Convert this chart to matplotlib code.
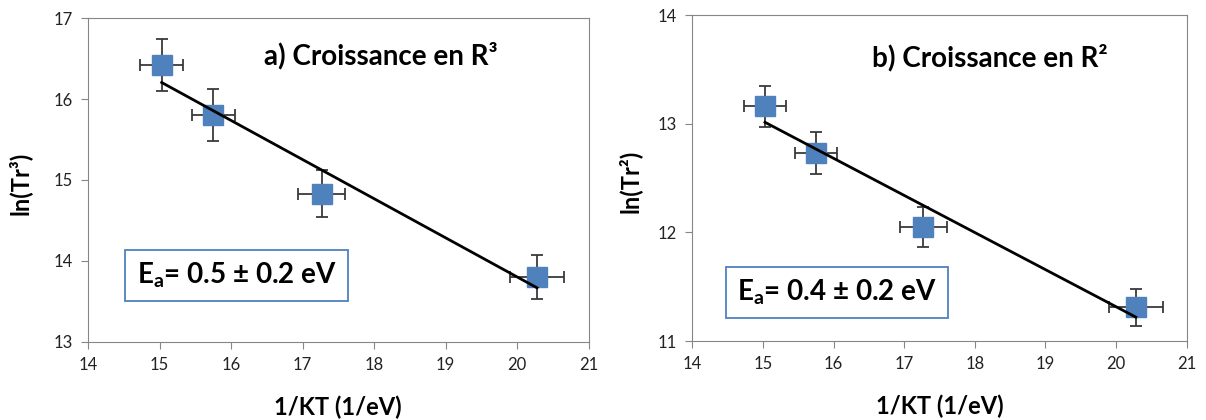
import matplotlib.pyplot as plt
from matplotlib.patches import Rectangle
import numpy as np

plt.rcParams['font.family'] = ['Lato', 'DejaVu Sans']
plt.rcParams['mathtext.fontset'] = 'custom'
plt.rcParams['mathtext.rm'] = 'Lato'
plt.rcParams['mathtext.bf'] = 'Lato:bold'

# data
inv_kt = [15.03, 15.75, 17.27, 20.28]
x_err = [0.30, 0.30, 0.33, 0.38]
ln_tr3 = [16.42, 15.80, 14.83, 13.80]
ln_tr3_err = [0.32, 0.32, 0.29, 0.27]
ln_tr2 = [13.16, 12.73, 12.05, 11.31]
ln_tr2_err = [0.19, 0.19, 0.18, 0.17]

panels = [
    dict(y=ln_tr3, yerr=ln_tr3_err, ylim=(13, 17), yticks=[13, 14, 15, 16, 17],
         ylabel="ln(Tr³)", title="a) Croissance en R³",
         ea=r"$\mathbf{E}_\mathbf{a}$= 0.5 ± 0.2 eV",
         rect=[0.073, 0.186, 0.415, 0.771], title_xy=(0.585, 0.885),
         box=(0.074, 0.127, 0.445, 0.157), ylab_x=-0.136),
    dict(y=ln_tr2, yerr=ln_tr2_err, ylim=(11, 14), yticks=[11, 12, 13, 14],
         ylabel="ln(Tr²)", title="b) Croissance en R²",
         ea=r"$\mathbf{E}_\mathbf{a}$= 0.4 ± 0.2 eV",
         rect=[0.574, 0.188, 0.410, 0.776], title_xy=(0.602, 0.87),
         box=(0.069, 0.071, 0.448, 0.156), ylab_x=-0.127),
]

fig = plt.figure(figsize=(12.06, 4.2), dpi=100)

for p in panels:
    ax = fig.add_axes(p["rect"])
    ax.errorbar(inv_kt, p["y"], xerr=x_err, yerr=p["yerr"], fmt="none",
                ecolor="#3a3a3a", elinewidth=1.3, capsize=4, capthick=1.3, zorder=2)
    ax.plot(inv_kt, p["y"], "s", color="#4F81BD", markersize=14, zorder=3)
    k, b = np.polyfit(inv_kt, p["y"], 1)
    xs = np.array([inv_kt[0], inv_kt[-1]])
    ax.plot(xs, k * xs + b, color="black", lw=2, zorder=4)

    ax.set_xlim(14, 21)
    ax.set_ylim(*p["ylim"])
    ax.set_xticks(range(14, 22))
    ax.set_yticks(p["yticks"])
    for s in ax.spines.values():
        s.set_color("#868686")
    ax.tick_params(direction="out", length=5, color="#868686", labelsize=12,
                   labelcolor="#222222", pad=6)
    ax.set_xlabel("1/KT (1/eV)", fontsize=17, fontweight="bold")
    ax.xaxis.set_label_coords(0.5, -0.165)
    ax.set_ylabel(p["ylabel"], fontsize=17, fontweight="bold", va="center")
    ax.yaxis.set_label_coords(p["ylab_x"], 0.49)
    ax.text(*p["title_xy"], p["title"], transform=ax.transAxes, fontsize=20,
            fontweight="bold", ha="center", va="center")

    bx, by, bw, bh = p["box"]
    ax.add_patch(Rectangle((bx, by), bw, bh, transform=ax.transAxes, fc="white",
                           ec="#4F81BD", lw=1.3, zorder=5))
    ax.text(bx + bw / 2, by + bh / 2, p["ea"], transform=ax.transAxes, fontsize=20,
            fontweight="bold", ha="center", va="center", zorder=6)

fig.savefig("out.png", dpi=100)
